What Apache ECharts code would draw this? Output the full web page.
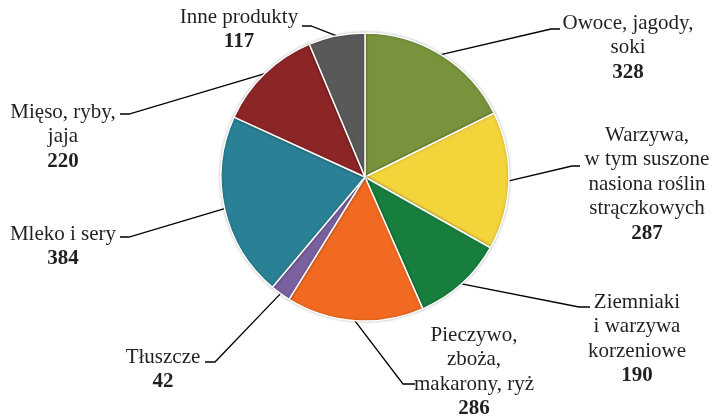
<!DOCTYPE html>
<html>
<head>
<meta charset="utf-8">
<script src="https://cdn.jsdelivr.net/npm/echarts@6/dist/echarts.min.js"></script>
<style>
  html, body { margin: 0; padding: 0; background: #fff; }
  #chart { width: 713px; height: 419px; }
</style>
</head>
<body>
<div id="chart"></div>
<script>
// data
const names = [
  'Owoce, jagody,\nsoki',
  'Warzywa,\nw tym suszone\nnasiona roślin\nstrączkowych',
  'Ziemniaki\ni warzywa\nkorzeniowe',
  'Pieczywo,\nzboża,\nmakarony, ryż',
  'Tłuszcze',
  'Mleko i sery',
  'Mięso, ryby,\njaja',
  'Inne produkty'
]
const values = [328, 287, 190, 286, 42, 384, 220, 117]

// styles / layout
const colors = ['#77933C', '#F3D43B', '#177E3D', '#F26A21', '#7B60A0', '#2A8094', '#8C2526', '#595959']
// [text centre x, text top y, elbow x, elbow y, end x, end y]
const labelPos = [
  [628, 11, 551, 29, 560, 29],
  [647, 123, 572, 166, 580, 166],
  [637, 290, 579, 307, 590, 307],
  [474, 323, 403, 384, 415, 384],
  [163, 345, 215, 362, 205, 362],
  [63, 222, 129, 237, 120, 237],
  [63, 100, 129, 114, 120, 114],
  [239, 5, 311, 26, 302, 26]
]

const chart = echarts.init(document.getElementById('chart'), null, {renderer: 'canvas'})

chart.setOption({
  backgroundColor: '#fff',
  animation: false,
  series: [
    {
      type: 'pie',
      center: [365, 177],
      radius: 144,
      startAngle: 90,
      clockwise: true,
      data: names.map((n, i) => ({
        name: n,
        value: values[i],
        itemStyle: {color: colors[i]},
      })),
      itemStyle: {
        borderColor: '#fff',
        borderWidth: 1.5,
        shadowBlur: 3,
        shadowColor: 'rgba(0,0,0,0.25)',
      },
      emphasis: {disabled: true},
      label: {
        show: true,
        position: 'outside',
        formatter: p => p.name + '\n{v|' + p.value + '}',
        fontFamily: '"Liberation Serif", "Times New Roman", serif',
        fontSize: 21,
        lineHeight: 24.5,
        color: '#231F20',
        align: 'center',
        rich: {
          v: {
            fontFamily: '"Liberation Serif", "Times New Roman", serif',
            fontSize: 21,
            lineHeight: 24.5,
            fontWeight: 'bold',
            color: '#231F20',
          },
        },
      },
      labelLine: {
        show: true,
        length: 10,
        length2: 10,
        lineStyle: {color: '#000', width: 1.3},
      },
      labelLayout: function (params) {
        const p = labelPos[params.dataIndex]
        const start = params.labelLinePoints ? params.labelLinePoints[0] : [p[2], p[3]]
        return {
          x: p[0],
          y: p[1],
          align: 'center',
          verticalAlign: 'top',
          labelLinePoints: [start, [p[2], p[3]], [p[4], p[5]]],
        }
      },
    },
  ],
})
</script>
</body>
</html>
